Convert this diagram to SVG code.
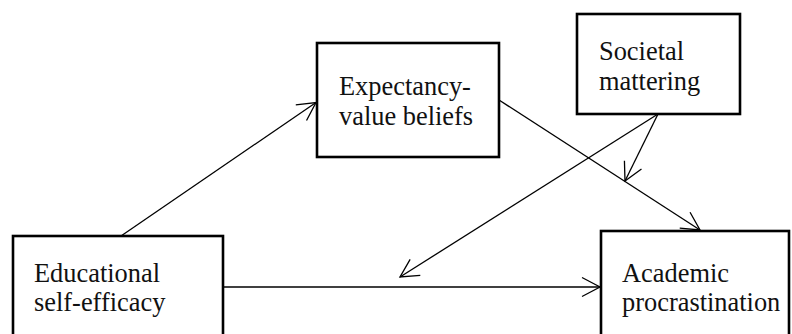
<svg xmlns="http://www.w3.org/2000/svg" width="792" height="334" viewBox="0 0 792 334">
<style>
.box{fill:#fff;stroke:#000;stroke-width:2.6}
.lbl{font-family:"Liberation Serif","Times New Roman",serif;font-size:26.4px;fill:#111}
.con{fill:none;stroke:#000;stroke-width:1.3}
</style>
<defs>
<marker id="arr" markerUnits="userSpaceOnUse" markerWidth="24" markerHeight="24" viewBox="-20 -12 24 24" refX="0" refY="0" orient="auto">
<path d="M-18,-9.5 L0,0 L-18,9.5" fill="none" stroke="#000" stroke-width="1.3"/>
</marker>
</defs>
<rect width="792" height="334" fill="#fff"/>
<g id="connectors">
<line class="con" x1="121" y1="236" x2="316" y2="102.5" marker-end="url(#arr)"/>
<line class="con" x1="499" y1="100" x2="700" y2="230" marker-end="url(#arr)"/>
<line class="con" x1="223" y1="287" x2="600" y2="287" marker-end="url(#arr)"/>
<line class="con" x1="658" y1="114" x2="625" y2="181" marker-end="url(#arr)"/>
<line class="con" x1="658" y1="114" x2="400" y2="277" marker-end="url(#arr)"/>
</g>
<g id="expectancy">
<rect class="box" x="317" y="43" width="182" height="114"/>
<text class="lbl" x="339" y="95">Expectancy-</text>
<text class="lbl" x="339" y="125">value beliefs</text>
</g>
<g id="societal">
<rect class="box" x="577" y="14" width="163" height="100"/>
<text class="lbl" x="599" y="60">Societal</text>
<text class="lbl" x="599" y="90">mattering</text>
</g>
<g id="educational">
<rect class="box" x="13" y="236" width="210" height="110"/>
<text class="lbl" x="34" y="282">Educational</text>
<text class="lbl" x="34" y="311">self-efficacy</text>
</g>
<g id="academic">
<rect class="box" x="601" y="231" width="188" height="115"/>
<text class="lbl" x="622" y="282">Academic</text>
<text class="lbl" x="622" y="311">procrastination</text>
</g>
</svg>
